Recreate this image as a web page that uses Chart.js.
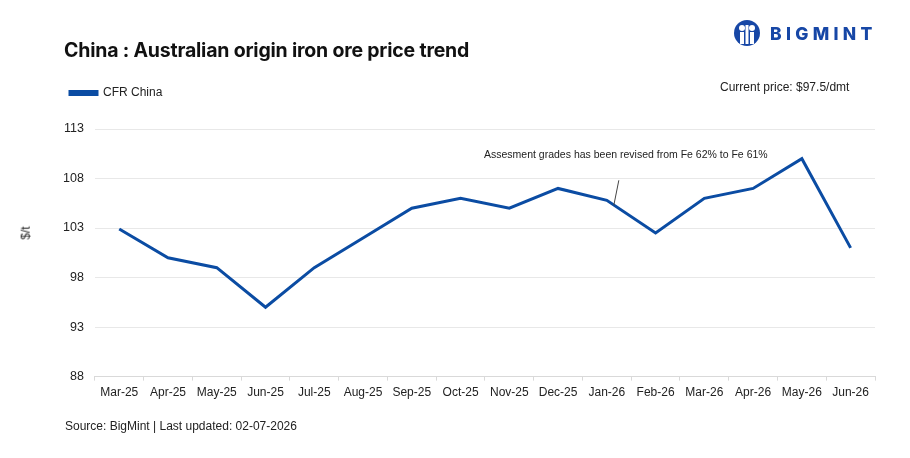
<!DOCTYPE html>
<html>
<head>
<meta charset="utf-8">
<script src="https://cdn.jsdelivr.net/npm/chart.js@4.4.1/dist/chart.umd.min.js"></script>
<style>
  body { margin: 0; background: #fff; font-family: "Liberation Sans", Arial, sans-serif; color: #222; }
  #wrap { position: relative; width: 910px; height: 458px; overflow: hidden; }
  #myChart { position: absolute; left: 0; top: 0; }
  .txt { position: absolute; white-space: nowrap; }
  #title { left: 64px; top: 38px; font-family: Inter, sans-serif; font-weight: 700; font-size: 19.5px; color: #111; letter-spacing: -0.2px; }
  #price { left: 720px; top: 80px; font-size: 12px; }
  #ytitle { left: 19px; top: 226px; font-size: 12px; transform: rotate(-90deg); color: #222; }
  #source { left: 65px; top: 419px; font-size: 12px; }
  #logo { left: 733px; top: 19px; display: flex; align-items: center; color: #1747a6; }
  #logo span { font-family: Inter, sans-serif; font-weight: 800; font-size: 17.5px; letter-spacing: 4.3px; margin-left: 9px; }
</style>
</head>
<body>
<div id="wrap">
  <canvas id="myChart" width="910" height="458"></canvas>
  <div class="txt" id="title">China : Australian origin iron ore price trend</div>
  <div class="txt" id="price">Current price: $97.5/dmt</div>
  <div class="txt" id="ytitle">$/t</div>
  <div class="txt" id="source">Source: BigMint | Last updated: 02-07-2026</div>
  <div class="txt" id="logo">
    <svg width="28" height="28" viewBox="0 0 28 28">
      <circle cx="14" cy="14" r="13" fill="#1747a6"/>
      <circle cx="9" cy="9" r="3" fill="#fff"/>
      <circle cx="19" cy="9" r="3" fill="#fff"/>
      <rect x="7" y="13" width="4" height="12" fill="#fff"/>
      <rect x="17" y="13" width="4" height="12" fill="#fff"/>
      <rect x="12.5" y="6" width="3" height="19" fill="#fff"/>
    </svg>
    <span>BIGMINT</span>
  </div>
</div>
<script>
const months = ["Mar-25", "Apr-25", "May-25", "Jun-25", "Jul-25", "Aug-25", "Sep-25", "Oct-25",
  "Nov-25", "Dec-25", "Jan-26", "Feb-26", "Mar-26", "Apr-26", "May-26", "Jun-26"];
const cfrChina = [102.9, 100, 99, 95, 99, 102, 105, 106, 105, 107, 105.8, 102.5, 106, 107, 110, 101];
const yTicks = [88, 93, 98, 103, 108, 113];
const noteText = "Assesment grades has been revised from Fe 62% to Fe 61%";
const noteIndex = 10;

const BLUE = "#0b4ca3";

// leader line + note at the grade revision month
const notePlugin = {
  id: "note",
  afterDatasetsDraw(chart) {
    const c = chart.ctx;
    const xs = chart.scales.x, ys = chart.scales.y;
    const px = xs.getPixelForValue(noteIndex);
    const py = ys.getPixelForValue(cfrChina[noteIndex]);
    c.save();
    c.strokeStyle = "#444";
    c.lineWidth = 1;
    c.beginPath();
    c.moveTo(px + 7, py + 5);
    c.lineTo(px + 12, py - 20);
    c.stroke();
    c.fillStyle = "#222";
    c.font = "10.5px 'Liberation Sans', Arial, sans-serif";
    c.textAlign = "center";
    c.textBaseline = "middle";
    c.fillText(noteText, px + 19, ys.getPixelForValue(113) + 26);
    c.restore();
  }
};

// extra room under the legend
const legendGap = {
  id: "legendGap",
  beforeInit(chart) {
    const fit = chart.legend.fit;
    chart.legend.fit = function () {
      fit.bind(chart.legend)();
      this.height += 20;
    };
  }
};

const ctx = document.getElementById("myChart").getContext("2d");
const myChart = new Chart(ctx, {
  type: "line",
  data: {
    labels: months,
    datasets: [{
      label: "CFR China",
      data: cfrChina,
      borderColor: BLUE,
      backgroundColor: BLUE,
      borderWidth: 3,
      pointRadius: 0,
      tension: 0
    }]
  },
  options: {
    responsive: false,
    animation: false,
    layout: { padding: { top: 69, left: 52, right: 35, bottom: 53 } },
    plugins: {
      legend: {
        position: "top",
        align: "start",
        labels: {
          boxWidth: 27,
          boxHeight: 3,
          padding: 18,
          color: "#222",
          font: { family: "'Liberation Sans', Arial, sans-serif", size: 12 }
        }
      },
      tooltip: { enabled: false }
    },
    scales: {
      x: {
        offset: true,
        grid: { drawOnChartArea: false, drawTicks: true, tickLength: 4, color: "#d9d9d9", offset: true },
        border: { color: "#d9d9d9" },
        ticks: { color: "#222", maxRotation: 0, autoSkip: false, padding: 5,
          font: { family: "'Liberation Sans', Arial, sans-serif", size: 12 } }
      },
      y: {
        min: 88,
        max: 113,
        afterBuildTicks(axis) { axis.ticks = yTicks.map(v => ({ value: v })); },
        grid: { color: "#e8e8e8", drawTicks: false },
        border: { display: false },
        ticks: { color: "#222", padding: 11,
          font: { family: "'Liberation Sans', Arial, sans-serif", size: 12.5 } }
      }
    }
  },
  plugins: [notePlugin, legendGap]
});
</script>
</body>
</html>
